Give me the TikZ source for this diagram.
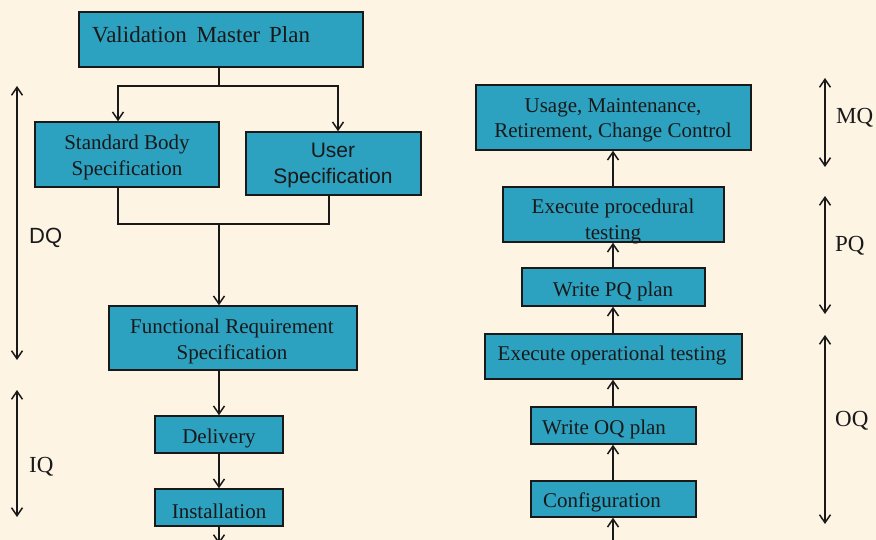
\documentclass[tikz,border=0pt]{standalone}
\usepackage{fontspec}
\setmainfont{Liberation Serif}
\newfontfamily\arialf{Liberation Sans}
\usetikzlibrary{arrows.meta}
\definecolor{bgc}{RGB}{253,244,228}
\definecolor{boxc}{RGB}{44,161,192}
\definecolor{ink}{RGB}{25,25,25}
\begin{document}
\begin{tikzpicture}[x=1pt,y=-1pt,
  box/.style={draw=ink, line width=1.5pt, fill=boxc, inner sep=0pt},
  txt/.style={inner sep=0pt, align=center, text=ink, font=\fontsize{21}{25.5}\selectfont},
  stxt/.style={inner sep=0pt, align=center, text=ink, font=\arialf\fontsize{21}{26}\selectfont},
  side/.style={inner sep=0pt, anchor=west, text=ink, font=\fontsize{23}{26}\selectfont},
  line/.style={draw=ink, line width=1.6pt},
  arr/.style={line, -{Straight Barb[length=8pt,width=11pt,line width=1.5pt]}},
  darr/.style={line, {Straight Barb[length=8pt,width=11pt,line width=1.5pt]}-{Straight Barb[length=8pt,width=11pt,line width=1.5pt]}}]
\useasboundingbox (0,0) rectangle (876,540);
\fill[bgc] (0,0) rectangle (876,540);
\clip (0,0) rectangle (876,540);

% left column boxes
\node[box, minimum width=284pt, minimum height=55pt] (vmp) at (221,39.5) {};
\node[box, minimum width=184pt, minimum height=65pt] (sbs) at (127,154.5) {};
\node[box, minimum width=175pt, minimum height=63pt] (us) at (333.5,163.5) {};
\node[box, minimum width=248pt, minimum height=64pt] (frs) at (233,338) {};
\node[box, minimum width=128pt, minimum height=37pt] (del) at (219,434.5) {};
\node[box, minimum width=128pt, minimum height=37pt] (ins) at (219,507.5) {};

% right column boxes
\node[box, minimum width=275pt, minimum height=65pt] (umr) at (613.5,117.5) {};
\node[box, minimum width=221pt, minimum height=55pt] (ept) at (613.5,214.5) {};
\node[box, minimum width=183pt, minimum height=38pt] (wpq) at (613.5,287) {};
\node[box, minimum width=257pt, minimum height=45pt] (eot) at (613.5,356.5) {};
\node[box, minimum width=165pt, minimum height=37pt] (woq) at (613.5,425.5) {};
\node[box, minimum width=165pt, minimum height=36pt] (cfg) at (613.5,499) {};

% texts
\node[txt, anchor=west, font=\fontsize{23}{26}\selectfont] (vmpt) at (92,35) {Validation\ \hspace{4pt}Master\ \hspace{3pt}Plan};
\node[txt] (sbst) at (127,157.5) {Standard Body\\Specification};
\node[stxt] (ust) at (333,165.5) {User\\Specification};
\node[txt] (frst) at (232,341.5) {Functional Requirement\\Specification};
\node[txt] (delt) at (219,438) {Delivery};
\node[txt] (inst) at (219,511) {Installation};
\node[txt] (umrt) at (613,120.5) {Usage, Maintenance,\\Retirement, Change Control};
\node[txt] (eptt) at (613,221.5) {Execute procedural\\testing};
\node[txt] (wpqt) at (613,291) {Write PQ plan};
\node[txt] (eott) at (612,355) {Execute operational testing};
\node[txt] (woqt) at (604,429) {Write OQ plan};
\node[txt] (cfgt) at (602,502) {Configuration};

% side labels
\node[side, font=\arialf\fontsize{22}{26}\selectfont] (dq) at (29,238) {DQ};
\node[side] (iq) at (29,467) {IQ};
\node[side] (mq) at (836,118) {MQ};
\node[side] (pq) at (835,246) {PQ};
\node[side] (oq) at (835,421) {OQ};

% helper coordinates
\coordinate (sx) at (219,0);
\coordinate (lx) at (118,0);
\coordinate (rx) at (338,0);
\coordinate (ux) at (329,0);
\coordinate (cx) at (613,0);
\coordinate (m1) at (219,86);
\coordinate (m2) at (219,224);
\coordinate (lbot) at (219,544);
\coordinate (rbot) at (613,560);

% left connectors
\draw[line] (vmp.south -| sx) -- (m1);
\draw[arr] (m1) -| (sbs.north -| lx);
\draw[arr] (m1) -| (us.north -| rx);
\draw[line] (sbs.south -| lx) |- (m2);
\draw[line] (us.south -| ux) |- (m2);
\draw[arr] (m2) -- (frs.north -| sx);
\draw[arr] (frs.south -| sx) -- (del.north);
\draw[arr] (del.south) -- (ins.north);
\draw[arr] (ins.south) -- (lbot);

% right connectors
\draw[arr] (rbot) -- (cfg.south -| cx);
\draw[arr] (cfg.north -| cx) -- (woq.south -| cx);
\draw[arr] (woq.north -| cx) -- (eot.south -| cx);
\draw[arr] (eot.north -| cx) -- (wpq.south -| cx);
\draw[arr] (wpq.north -| cx) -- (ept.south -| cx);
\draw[arr] (ept.north -| cx) -- (umr.south -| cx);

% phase arrows
\coordinate (dq1) at (17,86);  \coordinate (dq2) at (17,360);
\coordinate (iq1) at (17,390); \coordinate (iq2) at (17,517);
\coordinate (mq1) at (825,78); \coordinate (mq2) at (825,167);
\coordinate (pq1) at (825,196); \coordinate (pq2) at (825,314);
\coordinate (oq1) at (825,335); \coordinate (oq2) at (825,524);
\draw[darr] (dq1) -- (dq2);
\draw[darr] (iq1) -- (iq2);
\draw[darr] (mq1) -- (mq2);
\draw[darr] (pq1) -- (pq2);
\draw[darr] (oq1) -- (oq2);
\end{tikzpicture}
\end{document}
